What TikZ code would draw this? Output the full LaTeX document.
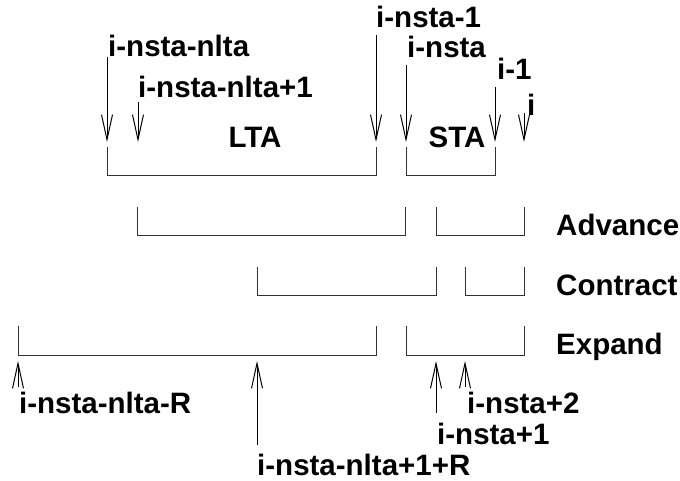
\documentclass[tikz,border=0pt]{standalone}
\usepackage{fontspec}
\setmainfont{Liberation Sans}
\usetikzlibrary{arrows.meta}
\tikzset{
  lab/.style={inner sep=0pt, font=\bfseries\fontsize{29.5}{31}\selectfont},
  ptr/.style={draw=black, line width=1pt, -{Straight Barb[length=25pt,width=11pt,line width=1pt]}},
  bracket/.style={draw=black!80, line width=1pt}
}
\begin{document}
\begin{tikzpicture}[x=1pt, y=-1pt]
\useasboundingbox (0,0) rectangle (680,480);

% ---- top row: LTA and STA windows ----
\draw[bracket] (107,147) |- (376,175) -- (376,147);
\draw[bracket] (406,147) |- (495,175) -- (495,147);
\node[lab, anchor=base] (lta) at (255,147) {LTA};
\node[lab, anchor=base] (sta) at (457,147) {STA};

% downward pointers and their labels
\node[lab, anchor=base west] (nA) at (108,56) {i-nsta-nlta};
\node[lab, anchor=base west] (nB) at (138,97) {i-nsta-nlta+1};
\node[lab, anchor=base west] (nC) at (376,27) {i-nsta-1};
\node[lab, anchor=base west] (nD) at (407,57) {i-nsta};
\node[lab, anchor=base west] (nE) at (497,79) {i-1};
\node[lab, anchor=base west] (nF) at (527,115) {i};

\coordinate (tA) at (107,57);  \coordinate (hA) at (107,142);
\coordinate (tB) at (138,102); \coordinate (hB) at (138,142);
\coordinate (tC) at (376,35);  \coordinate (hC) at (376,142);
\coordinate (tD) at (406,65);  \coordinate (hD) at (406,142);
\coordinate (tE) at (495,87);  \coordinate (hE) at (495,142);
\coordinate (tF) at (524,113); \coordinate (hF) at (524,142);
\foreach \k in {A,B,C,D,E,F} \draw[ptr] (t\k) -- (h\k);

% ---- Advance ----
\draw[bracket] (137,207) |- (405,235) -- (405,207);
\draw[bracket] (436,207) |- (524,235) -- (524,207);
\node[lab, anchor=base west] (adv) at (556,235) {Advance};

% ---- Contract ----
\draw[bracket] (257,267) |- (436,295) -- (436,267);
\draw[bracket] (465,267) |- (524,295) -- (524,267);
\node[lab, anchor=base west] (con) at (556,295) {Contract};

% ---- Expand ----
\draw[bracket] (18,326) |- (376,355) -- (376,326);
\draw[bracket] (406,326) |- (524,355) -- (524,326);
\node[lab, anchor=base west] (exp) at (556,354) {Expand};

% upward pointers and their labels
\node[lab, anchor=base west] (nG) at (19,413) {i-nsta-nlta-R};
\node[lab, anchor=base west] (nH) at (257,475) {i-nsta-nlta+1+R};
\node[lab, anchor=base west] (nI) at (437,444) {i-nsta+1};
\node[lab, anchor=base west] (nJ) at (467,413) {i-nsta+2};

\coordinate (tG) at (18,387);  \coordinate (hG) at (18,361);
\coordinate (tH) at (257,445); \coordinate (hH) at (257,361);
\coordinate (tI) at (436,413); \coordinate (hI) at (436,361);
\coordinate (tJ) at (465,387); \coordinate (hJ) at (465,361);
\foreach \k in {G,H,I,J} \draw[ptr] (t\k) -- (h\k);
\end{tikzpicture}
\end{document}
